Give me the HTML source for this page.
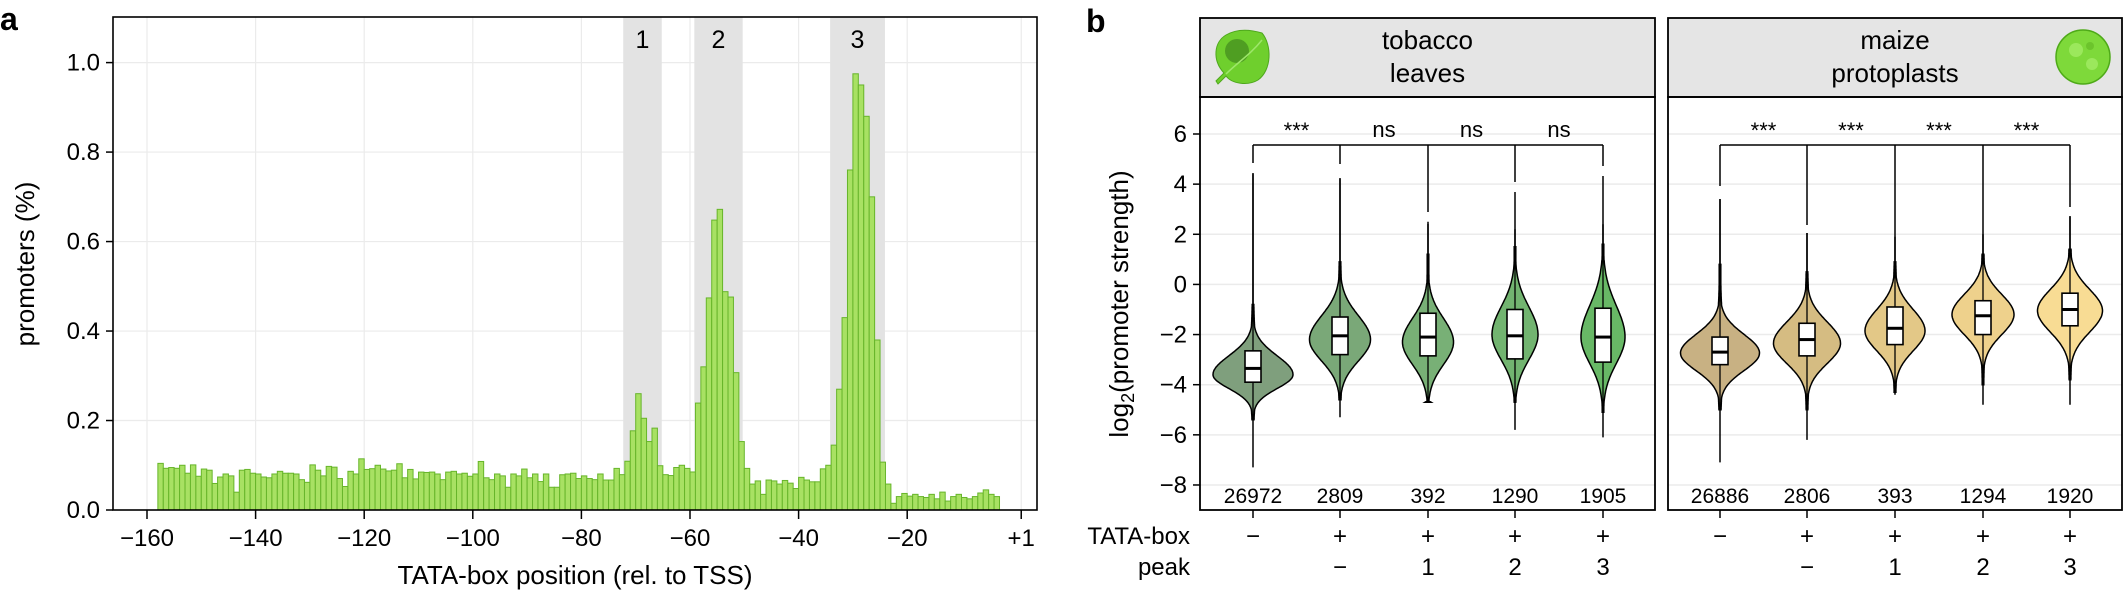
<!DOCTYPE html>
<html><head><meta charset="utf-8"><style>
html,body{margin:0;padding:0;background:#fff;}
svg{display:block;font-family:"Liberation Sans",Arial,sans-serif;}
</style></head><body>
<svg id="s" width="2124" height="595" viewBox="0 0 2124 595" xmlns="http://www.w3.org/2000/svg"></svg>
<script>
var S=document.getElementById('s');var h='';
function X(v){return 147+(v+160)*5.43;}
function Y(v){return 510-v*447.4;}
// panel a
h+='<text x="0" y="30" font-size="32" font-weight="bold">a</text>';
h+='<text x="1086" y="32" font-size="32" font-weight="bold">b</text>';
// grid
[-160,-140,-120,-100,-80,-60,-40,-20,1].forEach(function(t){var x=X(t);h+='<line x1="'+x+'" y1="17" x2="'+x+'" y2="510" stroke="#ebebeb" stroke-width="1.2"/>';});
[0.2,0.4,0.6,0.8,1.0].forEach(function(t){var y=Y(t);h+='<line x1="113" y1="'+y+'" x2="1037" y2="'+y+'" stroke="#ebebeb" stroke-width="1.2"/>';});
// bands
[[-72.3,-65.2,'1'],[-59.2,-50.3,'2'],[-34.2,-24.1,'3']].forEach(function(b){var x1=X(b[0]),x2=X(b[1]);h+='<rect x="'+x1+'" y="17" width="'+(x2-x1)+'" height="493" fill="#e3e3e3"/>';h+='<text x="'+((x1+x2)/2)+'" y="48" font-size="25" text-anchor="middle">'+b[2]+'</text>';});
var base=[1222,1235,1233,1235,1227,1248,1226,1256,1237,1240,1275,1258,1250,1255,1298,1240,1238,1248,1250,1258,1260,1250,1243,1248,1248,1250,1265,1272,1226,1240,1255,1230,1232,1262,1283,1243,1250,1210,1238,1236,1227,1237,1242,1240,1223,1260,1238,1263,1245,1246,1245,1250,1265,1245,1243,1250,1248,1256,1250,1217,1260,1265,1250,1255,1285,1250,1255,1237,1260,1250,1270,1250,1285,1285,1252,1250,1248,1262,1255,1262,1265,1250];
var vals={};
for(var i=0;i<82;i++){vals[-158+i]=(1345-base[i])/1180;}
var sp={'-76':0.067,'-75':0.067,'-74':0.093,'-73':0.079,'-72':0.109,'-71':0.177,'-70':0.26,'-69':0.205,'-68':0.153,'-67':0.183,'-66':0.099,'-65':0.079,'-64':0.077,'-63':0.095,'-62':0.1,'-61':0.093,'-60':0.085,'-59':0.239,'-58':0.32,'-57':0.474,'-56':0.648,'-55':0.672,'-54':0.488,'-53':0.476,'-52':0.307,'-51':0.153,'-50':0.093,'-49':0.058,'-48':0.065,'-47':0.035,'-46':0.067,'-45':0.065,'-44':0.058,'-43':0.066,'-42':0.06,'-41':0.048,'-40':0.073,'-39':0.067,'-38':0.063,'-37':0.063,'-36':0.092,'-35':0.10,'-34':0.145,'-33':0.27,'-32':0.43,'-31':0.76,'-30':0.975,'-29':0.95,'-28':0.88,'-27':0.70,'-26':0.38,'-25':0.107,'-24':0.058,'-23':0.015,'-22':0.03,'-21':0.037,'-20':0.031};
for(var k in sp)vals[k]=sp[k];
var tail=[0.035,0.03,0.028,0.035,0.025,0.04,0.02,0.03,0.035,0.028,0.025,0.03,0.038,0.045,0.035,0.03];
for(var i=0;i<16;i++)vals[-19+i]=tail[i];
for(var k=-158;k<=-4;k++){var v=vals[k];var x=X(k),y=Y(v);h+='<rect x="'+x+'" y="'+y+'" width="5.43" height="'+(510-y)+'" fill="#a8e163" stroke="#67b52a" stroke-width="1"/>';}
h+='<rect x="113" y="17" width="924" height="493" fill="none" stroke="#000" stroke-width="1.6"/>';
[-160,-140,-120,-100,-80,-60,-40,-20].forEach(function(t){var x=X(t);h+='<line x1="'+x+'" y1="510" x2="'+x+'" y2="519" stroke="#000" stroke-width="1.5"/><text x="'+x+'" y="546" font-size="24" text-anchor="middle">\u2212'+(-t)+'</text>';});
h+='<line x1="'+X(1)+'" y1="510" x2="'+X(1)+'" y2="519" stroke="#000" stroke-width="1.5"/><text x="'+X(1)+'" y="546" font-size="24" text-anchor="middle">+1</text>';
[0,0.2,0.4,0.6,0.8,1.0].forEach(function(t){var y=Y(t);h+='<line x1="106" y1="'+y+'" x2="113" y2="'+y+'" stroke="#000" stroke-width="1.5"/><text x="100" y="'+(y+8)+'" font-size="24" text-anchor="end">'+t.toFixed(1)+'</text>';});
h+='<text x="575" y="584" font-size="26" text-anchor="middle">TATA-box position (rel. to TSS)</text>';
h+='<text transform="translate(34,264) rotate(-90)" font-size="26" text-anchor="middle">promoters (%)</text>';
// panel b
function YB(v){return 134+(6-v)*25.07;}
[[1200,1655],[1668,2122]].forEach(function(f){
 [6,4,2,0,-2,-4,-6,-8].forEach(function(t){var y=YB(t);h+='<line x1="'+f[0]+'" y1="'+y+'" x2="'+f[1]+'" y2="'+y+'" stroke="#ebebeb" stroke-width="1.5"/>';});
});
function violin(x,p){
 // p: mode, W, su, sd, top, bot, q1, med, q3, col, dropEnd, tailTop
 var pts=[],pts2=[];var n=120;
 for(var i=0;i<=n;i++){var v=p.bot+(p.top-p.bot)*i/n;var s=v>p.m?p.su:p.sd;var z=(v-p.m)/s;var w=p.W*Math.exp(-0.5*z*z)/(1+0.0*z*z);
  var tw=p.W*0.35/(1+z*z*1.2);w=Math.max(w,tw);w=Math.max(w,0.8);
  if(i==0&&p.blunt)w=Math.max(w,3);
  pts.push((x+w).toFixed(1)+','+YB(v).toFixed(1));pts2.unshift((x-w).toFixed(1)+','+YB(v).toFixed(1));}
 h+='<line x1="'+x+'" y1="'+YB(p.top)+'" x2="'+x+'" y2="'+YB(p.bot)+'" stroke="#000" stroke-width="1.5"/>';
 h+='<polygon points="'+pts.join(' ')+' '+pts2.join(' ')+'" fill="'+p.c+'" stroke="#000" stroke-width="1.5"/>';
 h+='<line x1="'+x+'" y1="'+YB(p.top)+'" x2="'+x+'" y2="'+YB(p.bot)+'" stroke="#000" stroke-width="1.3"/>';
 h+='<line x1="'+x+'" y1="'+YB(p.top)+'" x2="'+x+'" y2="'+(p.tt)+'" stroke="#000" stroke-width="1.5"/>';
 h+='<rect x="'+(x-8)+'" y="'+YB(p.q3)+'" width="16" height="'+(YB(p.q1)-YB(p.q3))+'" fill="#fff" stroke="#000" stroke-width="1.6"/>';
 h+='<line x1="'+(x-8)+'" y1="'+YB(p.md)+'" x2="'+(x+8)+'" y2="'+YB(p.md)+'" stroke="#000" stroke-width="3"/>';
 h+='<line x1="'+x+'" y1="145" x2="'+x+'" y2="'+p.de+'" stroke="#000" stroke-width="1.5"/>';
}
var L=[
 [1253,{m:-3.6,W:40,su:0.75,sd:0.55,top:-0.8,bot:-5.4,q1:-3.9,md:-3.35,q3:-2.65,c:'#7f9f7d',tt:173,de:163}],
 [1340,{m:-2.2,W:30.5,su:0.95,sd:0.85,top:0.9,bot:-4.6,q1:-2.8,md:-2.05,q3:-1.3,c:'#7aa878',tt:178,de:164}],
 [1428,{m:-2.3,W:25.5,su:0.95,sd:0.9,top:1.2,bot:-4.7,q1:-2.85,md:-2.1,q3:-1.15,c:'#78b076',tt:224,de:212,blunt:1}],
 [1515,{m:-2.0,W:23,su:1.1,sd:1.0,top:1.5,bot:-4.7,q1:-2.97,md:-2.05,q3:-1.0,c:'#72b470',tt:192,de:182}],
 [1603,{m:-2.1,W:22,su:1.25,sd:1.05,top:1.6,bot:-5.1,q1:-3.1,md:-2.1,q3:-0.95,c:'#68b866',tt:176,de:166}]
];
var LT=[-7.3,-5.3,-4.7,-5.8,-6.1],LU=[4.4,4.2,2.5,2.2,2.4];
var R=[
 [1720,{m:-2.74,W:39.5,su:0.75,sd:0.7,top:0.8,bot:-5.0,q1:-3.2,md:-2.7,q3:-2.1,c:'#c8b183',tt:199,de:186}],
 [1807,{m:-2.35,W:33.5,su:0.85,sd:0.8,top:0.5,bot:-5.0,q1:-2.85,md:-2.2,q3:-1.55,c:'#d5bc82',tt:233,de:225}],
 [1895,{m:-1.85,W:30,su:0.85,sd:0.8,top:0.9,bot:-4.3,q1:-2.4,md:-1.75,q3:-0.9,c:'#e3c887',tt:237,de:237}],
 [1983,{m:-1.2,W:31,su:0.8,sd:0.8,top:1.2,bot:-4.0,q1:-2.0,md:-1.25,q3:-0.65,c:'#eed18c',tt:228,de:228}],
 [2070,{m:-1.05,W:32.5,su:0.85,sd:0.85,top:1.4,bot:-3.8,q1:-1.65,md:-1.0,q3:-0.35,c:'#f8dc94',tt:216,de:207}]
];
var RT=[-7.1,-6.2,-4.4,-4.8,-4.8],RU=[3.4,2.05,1.9,2.0,2.7];
L.forEach(function(a,i){h+='<line x1="'+a[0]+'" y1="'+YB(LU[i])+'" x2="'+a[0]+'" y2="'+YB(LT[i])+'" stroke="#000" stroke-width="1.5"/>';violin(a[0],a[1]);});
R.forEach(function(a,i){h+='<line x1="'+a[0]+'" y1="'+YB(RU[i])+'" x2="'+a[0]+'" y2="'+YB(RT[i])+'" stroke="#000" stroke-width="1.5"/>';violin(a[0],a[1]);});
h+='<line x1="1253" y1="145" x2="1603" y2="145" stroke="#000" stroke-width="1.5"/>';
h+='<line x1="1720" y1="145" x2="2070" y2="145" stroke="#000" stroke-width="1.5"/>';
var ls=['***','ns','ns','ns'];
for(var i=0;i<4;i++){var x=(L[i][0]+L[i+1][0])/2;h+='<text x="'+x+'" y="'+(ls[i]=='***'?138:137)+'" font-size="22" text-anchor="middle">'+ls[i]+'</text>';}
for(var i=0;i<4;i++){var x=(R[i][0]+R[i+1][0])/2;h+='<text x="'+x+'" y="138" font-size="22" text-anchor="middle">***</text>';}
var nl=['26972','2809','392','1290','1905'],nr=['26886','2806','393','1294','1920'];
var tb=['\u2212','+','+','+','+'],pk=['','\u2212','1','2','3'];
L.concat(R).forEach(function(a,i){var x=a[0];var n=i<5?nl[i]:nr[i-5];
 h+='<text x="'+x+'" y="503" font-size="21" text-anchor="middle">'+n+'</text>';
 h+='<line x1="'+x+'" y1="510" x2="'+x+'" y2="518" stroke="#000" stroke-width="1.5"/>';
 h+='<text x="'+x+'" y="544" font-size="24" text-anchor="middle">'+tb[i%5]+'</text>';
 h+='<text x="'+x+'" y="575" font-size="24" text-anchor="middle">'+pk[i%5]+'</text>';});
// facet boxes and strips
[[1200,1655,'tobacco','leaves'],[1668,2122,'maize','protoplasts']].forEach(function(f){
 h+='<rect x="'+f[0]+'" y="18" width="'+(f[1]-f[0])+'" height="79" fill="#e5e5e5" stroke="#000" stroke-width="1.8"/>';
 h+='<rect x="'+f[0]+'" y="97" width="'+(f[1]-f[0])+'" height="413" fill="none" stroke="#000" stroke-width="1.8"/>';
 var c=(f[0]+f[1])/2;
 h+='<text x="'+c+'" y="49" font-size="26" text-anchor="middle">'+f[2]+'</text><text x="'+c+'" y="82" font-size="26" text-anchor="middle">'+f[3]+'</text>';});
[6,4,2,0,-2,-4,-6,-8].forEach(function(t){var y=YB(t);h+='<line x1="1193" y1="'+y+'" x2="1200" y2="'+y+'" stroke="#000" stroke-width="1.5"/><text x="1187" y="'+(y+8)+'" font-size="24" text-anchor="end">'+(t<0?'\u2212'+(-t):t)+'</text>';});
h+='<text transform="translate(1128,304) rotate(-90)" font-size="26" text-anchor="middle">log<tspan font-size="18" dy="6">2</tspan><tspan dy="-6">(promoter strength)</tspan></text>';
h+='<text x="1190" y="544" font-size="24" text-anchor="end">TATA-box</text><text x="1190" y="575" font-size="24" text-anchor="end">peak</text>';
// icons
h+='<path d="M1262,33 C1272,45 1272,70 1258,80 C1248,86 1232,84 1226,76 L1218,84 L1216,81 L1224,73 C1212,60 1214,42 1226,35 C1238,28 1252,30 1262,33 Z" fill="#6fcf2d" stroke="#4ea81c" stroke-width="1"/>';
h+='<circle cx="1237" cy="51" r="12" fill="#4f9e22"/><path d="M1226,74 C1238,62 1250,55 1262,40" stroke="#9ee66a" stroke-width="1.5" fill="none"/>';
h+='<ellipse cx="2083" cy="57" rx="27" ry="27" fill="#7ed93a" stroke="#4eaa18" stroke-width="1.5"/><circle cx="2076" cy="50" r="7" fill="#9be85c"/><circle cx="2092" cy="64" r="6" fill="#9be85c"/><circle cx="2090" cy="46" r="4" fill="#6cc42c"/>';
S.innerHTML=h;
</script>
</body></html>
